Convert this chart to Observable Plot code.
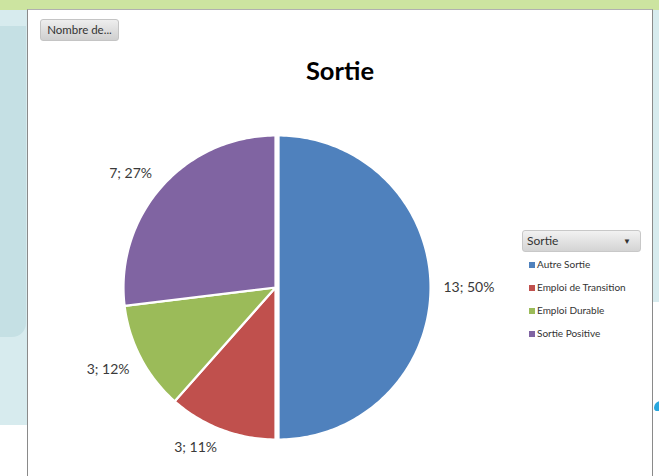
<!DOCTYPE html>
<html><head><meta charset="utf-8">
<script src="https://cdn.jsdelivr.net/npm/d3@7"></script>
<script src="https://cdn.jsdelivr.net/npm/@observablehq/plot@0.6"></script>
<style>
html,body{margin:0;padding:0;}
body{width:659px;height:476px;position:relative;overflow:hidden;background:#fff;font-family:Lato,"Open Sans",sans-serif;}
.abs{position:absolute;}
#topband{left:0;top:0;width:659px;height:10px;background:#cce4a0;}
#leftlight{left:0;top:10px;width:27px;height:415px;background:#d7ebee;}
#leftdark{left:0;top:26px;width:26px;height:311px;background:#c5e0e4;border-bottom-right-radius:14px;}
#rightlight{left:653px;top:10px;width:6px;height:292px;background:#d7ebee;}
#rightcurve{left:654px;top:401px;width:12px;height:10px;background:#29a7de;border-radius:8px 0 0 4px;}
#panel{left:27px;top:9px;width:624px;height:470px;border-left:1px solid #8a8a8a;border-right:1px solid #8a8a8a;border-top:1px solid #b0b0b0;background:#fff;}
#chart{position:absolute;left:0;top:0;}
#btn{left:40px;top:19px;width:79px;height:22px;box-sizing:border-box;border:1px solid #c4c4c4;border-radius:3px;background:linear-gradient(#eeeeee,#cfcfcf);font-size:11.5px;color:#333;line-height:20px;text-align:center;}
#title{left:240px;top:55px;width:200px;text-align:center;font-size:25.5px;font-weight:bold;color:#000;}
#drop{left:522px;top:230px;width:119px;height:22px;box-sizing:border-box;border:1px solid #c8c8c8;border-radius:3px;background:linear-gradient(#f2f2f2,#d4d4d4);font-size:12px;color:#333;line-height:20px;padding-left:4px;}
#drop span{position:absolute;right:9px;top:0;font-size:8px;}
.leg{left:529px;font-size:10px;color:#333;white-space:nowrap;line-height:12px;}
.leg i{display:inline-block;width:6px;height:6px;margin-right:2px;vertical-align:0px;}
</style></head><body>
<div id="topband" class="abs"></div>
<div id="leftlight" class="abs"></div>
<div id="leftdark" class="abs"></div>
<div id="rightlight" class="abs"></div>
<div id="rightcurve" class="abs"></div>
<div id="panel" class="abs"><div id="chart"></div></div>
<div id="btn" class="abs">Nombre de...</div>
<div id="title" class="abs">Sortie</div>
<div id="drop" class="abs">Sortie<span>&#9660;</span></div>
<div id="legend"></div>
<script>
const categories = ["Autre Sortie", "Emploi de Transition", "Emploi Durable", "Sortie Positive"];
const values = [13, 3, 3, 7];
const labels = ["13; 50%", "3; 11%", "3; 12%", "7; 27%"];
const colors = ["#4f81bd", "#c0504d", "#9bbb59", "#8064a2"];
const explode = [0.02, 0, 0, 0];

const rows = categories.map((c, i) => ({category: c, value: values[i], label: labels[i], explode: explode[i]}));
const arcs = d3.pie().sort(null).value(d => d.value)(rows);

const pts = [];
arcs.forEach(a => {
  const mid = (a.startAngle + a.endAngle) / 2;
  const ox = a.data.explode * Math.sin(mid), oy = a.data.explode * Math.cos(mid);
  const cat = a.data.category;
  pts.push({category: cat, x: ox, y: oy});
  const n = Math.max(2, Math.ceil((a.endAngle - a.startAngle) / (Math.PI / 180)));
  for (let i = 0; i <= n; i++) {
    const t = a.startAngle + (a.endAngle - a.startAngle) * i / n;
    pts.push({category: cat, x: ox + Math.sin(t), y: oy + Math.cos(t)});
  }
  pts.push({category: cat, x: ox, y: oy});
});

// outside-end labels: nearest corner of the label touches a point just outside the rim
const labelMarks = arcs.map(a => {
  const mid = (a.startAngle + a.endAngle) / 2;
  const s = Math.sin(mid), c = Math.cos(mid);
  const R = 1.085 + a.data.explode;
  const textAnchor = s > 0.25 ? "start" : s < -0.25 ? "end" : "middle";
  const lineAnchor = c > 0.25 ? "bottom" : c < -0.25 ? "top" : "middle";
  return Plot.text([{x: R * s, y: R * c, text: a.data.label}], {
    x: "x", y: "y", text: "text", textAnchor, lineAnchor, fontSize: 14, fill: "#3a3a3a"
  });
});

const cx = 247, cy = 277, r = 152;
const chart = Plot.plot({
  width: 624, height: 467,
  margin: 0,
  style: {background: "transparent", fontFamily: "Lato, 'Open Sans', sans-serif"},
  x: {domain: [-1, 1], range: [cx - r, cx + r], axis: null},
  y: {domain: [-1, 1], range: [cy + r, cy - r], axis: null},
  color: {domain: categories, range: colors},
  marks: [
    Plot.line(pts, {x: "x", y: "y", z: "category", fill: "category", stroke: "white", strokeWidth: 2.2, strokeLinejoin: "round", curve: "linear"}),
    ...labelMarks
  ]
});
document.getElementById("chart").appendChild(chart);

const legend = document.getElementById("legend");
categories.forEach((c, i) => {
  const d = document.createElement("div");
  d.className = "abs leg";
  d.style.top = (258 + i * 23) + "px";
  d.innerHTML = `<i style="background:${colors[i]}"></i>${c}`;
  legend.appendChild(d);
});
</script>
</body></html>
